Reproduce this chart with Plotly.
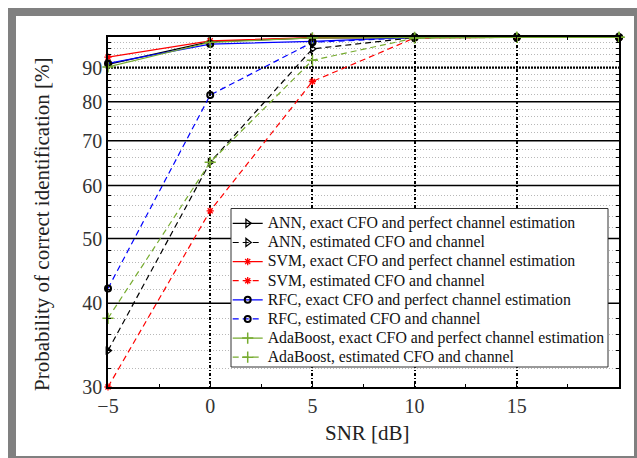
import numpy as np
import plotly.graph_objects as go

# ---------------- data ----------------
snr = [-5, 0, 5, 10, 15, 20]
ann_exact = [91.0, 98.4, 99.7, 99.9, 99.9, 99.9]
ann_est = [34.0, 65.0, 96.0, 99.8, 99.9, 99.9]
svm_exact = [93.3, 98.7, 99.8, 99.9, 99.9, 99.9]
svm_est = [30.0, 55.0, 85.8, 99.7, 99.9, 99.9]
rfc_exact = [91.3, 97.6, 98.5, 99.9, 99.9, 99.9]
rfc_est = [42.1, 81.9, 98.2, 99.8, 99.9, 99.9]
ada_exact = [90.2, 98.2, 99.7, 99.9, 99.9, 99.9]
ada_est = [38.0, 65.0, 92.3, 99.6, 99.9, 99.9]

names = [
    "ANN, exact CFO and perfect channel estimation",
    "ANN, estimated CFO and channel",
    "SVM, exact CFO and perfect channel estimation",
    "SVM, estimated CFO and channel",
    "RFC, exact CFO and perfect channel estimation",
    "RFC, estimated CFO and channel",
    "AdaBoost, exact CFO and perfect channel estimation",
    "AdaBoost, estimated CFO and channel",
]
x_ticks = [-5, 0, 5, 10, 15]
y_ticks = [30, 40, 50, 60, 70, 80, 90]
y_major_solid = [40, 50, 60, 70, 80]
y_major_dotted = [90]
y_minor = [v for v in range(32, 100, 2) if v % 10 != 0]

# ---------------- layout geometry ----------------
W, H = 637, 458
ML, MR, MT, MB = 108, 18, 37, 71
PW = W - ML - MR
PH = H - MT - MB


def px(x):
    return (x - ML) / PW


def py(y):
    return (H - MB - y) / PH


FONT = "Liberation Serif, Times New Roman, serif"
GREEN = "#77AC30"
DASH = "6px,4px"

styles = [
    (ann_exact, "black", "solid", "triangle-right-open", "black", 7, 1.3),
    (ann_est, "black", DASH, "triangle-right-open", "black", 7, 1.3),
    (svm_exact, "red", "solid", "asterisk-open", "red", 6, 1.3),
    (svm_est, "red", DASH, "asterisk-open", "red", 6, 1.3),
    (rfc_exact, "blue", "solid", "circle-open", "black", 6, 2.0),
    (rfc_est, "blue", DASH, "circle-open", "black", 6, 2.0),
    (ada_exact, GREEN, "solid", "cross-thin-open", GREEN, 8, 1.5),
    (ada_est, GREEN, DASH, "cross-thin-open", GREEN, 8, 1.5),
]

fig = go.Figure()
for name, (vals, lc, dash, sym, mc, ms, mlw) in zip(names, styles):
    fig.add_trace(go.Scatter(
        x=snr, y=vals, mode="lines+markers",
        name='<span style="font-size:15.8px">' + name + "</span>",
        line=dict(color=lc, width=1.2, dash=dash),
        marker=dict(symbol=sym, size=ms, color=mc, line=dict(color=mc, width=mlw)),
        cliponaxis=False,
    ))

shapes = []
# outer gray frame
shapes.append(dict(type="rect", xref="paper", yref="paper", layer="below",
                   x0=px(8), x1=px(W), y0=py(H), y1=py(8),
                   fillcolor="#808080", line=dict(width=0)))
shapes.append(dict(type="rect", xref="paper", yref="paper", layer="below",
                   x0=px(16), x1=px(634), y0=py(456), y1=py(16),
                   fillcolor="white", line=dict(width=0)))
# major horizontal grid
for v in y_major_solid:
    shapes.append(dict(type="line", xref="paper", yref="y", layer="below",
                       x0=0, x1=1, y0=v, y1=v,
                       line=dict(color="black", width=1.5)))
for v in y_major_dotted:
    shapes.append(dict(type="line", xref="paper", yref="y", layer="below",
                       x0=0, x1=1, y0=v, y1=v,
                       line=dict(color="black", width=2.2, dash="2px,1px")))
# legend box
shapes.append(dict(type="rect", xref="paper", yref="paper", layer="above",
                   x0=px(231), x1=px(608), y0=py(367), y1=py(208.5),
                   fillcolor="white", line=dict(color="#333333", width=1)))

fig.update_layout(
    width=W, height=H,
    margin=dict(l=ML, r=MR, t=MT, b=MB, pad=0, autoexpand=False),
    paper_bgcolor="white", plot_bgcolor="white",
    font=dict(family=FONT, color="#222222"),
    shapes=shapes,
    showlegend=True,
    legend=dict(x=px(227.7), y=py(208.8), xanchor="left", yanchor="top",
                bgcolor="rgba(0,0,0,0)", borderwidth=0,
                font=dict(family=FONT, size=12.4, color="#111111"),
                itemwidth=30, tracegroupgap=0),
    xaxis=dict(
        range=[-5, 20], tickvals=x_ticks, ticktext=[str(v).replace("-", "\u2212") for v in x_ticks],
        showline=True, linecolor="black", linewidth=1.5, mirror="ticks",
        ticks="inside", ticklen=5, tickcolor="black", tickwidth=1,
        showgrid=True, gridcolor="black", gridwidth=1.5, griddash="3px,2px,1px,2px",
        zeroline=False,
        tickfont=dict(family=FONT, size=20, color="#333333"),
        minor=dict(dtick=2.5, tick0=0, ticks="inside", ticklen=3, tickcolor="black", showgrid=False),
    ),
    yaxis=dict(
        type="log", range=[np.log10(30), 2],
        tickvals=y_ticks, ticktext=[str(v) for v in y_ticks],
        showline=True, linecolor="black", linewidth=1.5, mirror="ticks",
        ticks="", showgrid=False, zeroline=False,
        tickfont=dict(family=FONT, size=20, color="#333333"),
        minor=dict(tickmode="array", tickvals=y_minor, ticks="inside", ticklen=3,
                   tickcolor="black", showgrid=True, gridcolor="#b8b8b8",
                   gridwidth=1, griddash="1px,2px"),
    ),
    annotations=[
        dict(text="Probability of correct identification [%]", xref="paper", yref="paper",
             x=px(42), y=py(224), textangle=-90, showarrow=False,
             font=dict(family=FONT, size=21, color="#222222"), xanchor="center", yanchor="middle"),
        dict(text="SNR [dB]", xref="paper", yref="paper",
             x=px(367), y=py(433), showarrow=False,
             font=dict(family=FONT, size=21, color="#222222"), xanchor="center", yanchor="middle"),
    ],
)

fig.write_html("out.html")
